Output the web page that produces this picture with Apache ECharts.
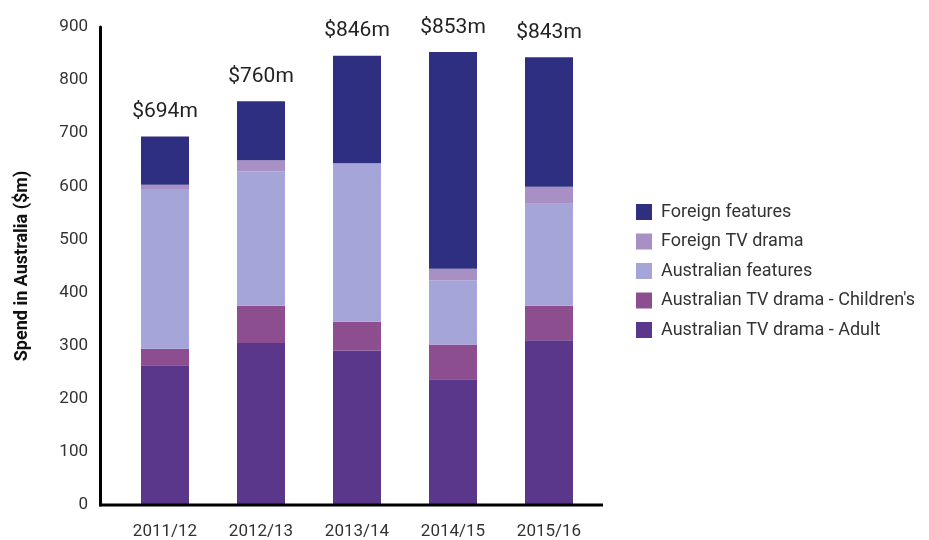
<!DOCTYPE html>
<html>
<head>
<meta charset="utf-8">
<script src="https://cdn.jsdelivr.net/npm/echarts@6/dist/echarts.min.js"></script>
<style>
  html, body { margin: 0; padding: 0; background: #fff; }
  #chart { width: 929px; height: 540px; }
</style>
</head>
<body>
<div id="chart"></div>
<script>
const years = ['2011/12', '2012/13', '2013/14', '2014/15', '2015/16']
const adult = [263, 305, 291, 237, 310]
const childrens = [31, 70, 54, 65, 65]
const ausFeatures = [301, 253, 297, 121, 192]
const foreignTv = [8, 21, 2, 22, 32]
const foreignFeatures = [91, 111, 202, 408, 244]
const totals = [694, 760, 846, 853, 843]

const font = 'Roboto, "DejaVu Sans", sans-serif'
const names = [
  'Australian TV drama - Adult',
  "Australian TV drama - Children's",
  'Australian features',
  'Foreign TV drama',
  'Foreign features'
]
const colors = ['#5b378c', '#8c4e8f', '#a5a5da', '#a88fc4', '#2e2f80']
const values = [adult, childrens, ausFeatures, foreignTv, foreignFeatures]

const series = values.map((d, i) => ({
  name: names[i],
  type: 'bar',
  stack: 'total',
  barWidth: 48,
  data: d,
  itemStyle: { color: colors[i] }
}))
// totals sit above the top segment
series[4].label = {
  show: true,
  position: 'top',
  distance: 14,
  fontFamily: font,
  fontSize: 21,
  color: '#222',
  formatter: p => '$' + totals[p.dataIndex] + 'm'
}

const chart = echarts.init(document.getElementById('chart'))
chart.setOption({
  animation: false,
  textStyle: { fontFamily: font },
  grid: { left: 117, top: 27, width: 480, bottom: 35 },
  legend: {
    orient: 'vertical',
    left: 631,
    top: 198,
    itemWidth: 16,
    itemHeight: 16,
    itemGap: 11.5,
    icon: 'rect',
    data: names.slice().reverse(),
    textStyle: { fontFamily: font, fontSize: 18, color: '#333', padding: [0, 0, 0, 4] }
  },
  xAxis: {
    type: 'category',
    data: years,
    axisLine: { show: false },
    axisTick: { show: false },
    axisLabel: { margin: 18, fontSize: 17, color: '#333', fontFamily: font }
  },
  yAxis: {
    type: 'value',
    min: 0,
    max: 900,
    interval: 100,
    offset: 17,
    name: 'Spend in Australia ($m)',
    nameLocation: 'middle',
    nameGap: 69,
    nameTextStyle: { fontSize: 18, fontWeight: 'bold', color: '#111', fontFamily: font },
    axisLine: { show: true, lineStyle: { color: '#000', width: 3 } },
    axisTick: { show: false },
    splitLine: { show: false },
    axisLabel: { margin: 12, fontSize: 17, color: '#333', fontFamily: font }
  },
  graphic: [{
    type: 'line',
    shape: { x1: 99, y1: 505, x2: 603, y2: 505 },
    style: { stroke: '#000', lineWidth: 3 },
    z: 10
  }],
  series: series
})
</script>
</body>
</html>
